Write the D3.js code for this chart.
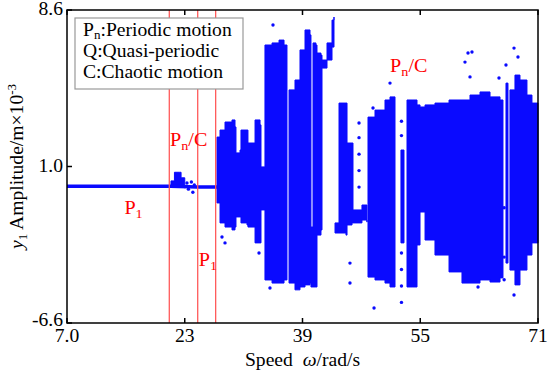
<!DOCTYPE html>
<html>
<head>
<meta charset="utf-8">
<script src="https://cdn.jsdelivr.net/npm/d3@7"></script>
<style>
  body { margin: 0; background: #fff; }
  text { font-family: "Liberation Serif", "Times New Roman", serif; }
</style>
</head>
<body>
<div id="chart"></div>
<script>
// axis ticks
var speedTicks = [7, 23, 39, 55, 71],
    speedTickLabels = ['7.0', '23', '39', '55', '71'];
var ampTicks = [-6.6, 1.0, 8.6],
    ampTickLabels = ['-6.6', '1.0', '8.6'];

// red boundaries between motion regions (rad/s)
var boundarySpeeds = [20.9, 24.76, 27.2];

// steady P1 branch
var p1Speeds = [7, 21.1, 24.7, 27.4],
    p1Amps = [0.04, 0.04, 0.0, 0.0];

// upper / lower envelope of the scattered response (null = no points)
var envSpeed = [21.13, 21.6, 22.3, 22.5, 23.0, null,
  27.38, 27.79, 28.47, 29.42, 29.83, 29.96, 30.51, 30.64, 31.46, 31.59, 32.41, 32.55, 33.23, 33.36, 33.77, 33.90, 34.86, 35.81, 36.49, 36.89, null,
  37.17, 37.98, 38.66, 39.34, 40.02, 40.15, 40.29, 40.43, 40.83, 40.97, 41.51, 41.65, 42.33, 43.01, 43.28, null,
  43.42, 43.82, 43.96, 44.91, 45.05, 45.73, 45.86, 47.08, 47.76, null,
  47.90, 48.85, 50.21, 50.89, 51.57, null,
  52.38, 52.79, null,
  53.20, 54.01, 54.56, 54.97, 55.65, 57.00, 58.91, 60.67, 61.76, 63.12, 64.48, 65.84, 66.24, null,
  66.65, 66.92, null,
  67.19, 67.87, 68.55, 69.50, 70.18, 71.0];
var envTop = [0.30, 0.72, 0.72, 0.45, 0.35, null,
  2.43, 2.77, 3.16, 3.26, 2.92, 1.66, 1.80, 2.77, 2.77, 2.14, 2.14, 3.26, 3.02, 0.98, 0.98, 6.90, 7.00, 7.14, 6.90, 6.66, null,
  4.72, 5.20, 6.66, 7.63, 7.39, -1.94, -1.94, 7.00, 6.90, 6.51, 6.41, 6.17, 7.00, 8.11, 8.26, null,
  -1.74, -1.74, 4.08, 4.08, 2.14, 2.14, -1.11, -0.87, -1.21, null,
  3.40, 3.74, 4.23, 4.38, 4.23, null,
  1.80, 1.80, null,
  4.23, 4.23, 3.99, 3.89, 3.99, 4.08, 4.23, 4.23, 4.47, 4.62, 4.38, 4.23, 4.23, null,
  5.05, 5.05, null,
  4.72, 5.44, 5.20, 4.47, 4.08, 3.99];
var envBottom = [0.0, 0.0, 0.0, 0.0, -0.05, null,
  -0.77, -1.74, -1.94, -2.08, -1.94, -1.45, -1.45, -1.74, -1.84, -1.94, -1.94, -2.71, -2.71, -1.11, -1.11, -4.51, -4.66, -4.66, -4.51, -4.03, null,
  -4.66, -4.99, -4.85, -4.75, -4.66, -4.85, -4.85, -4.85, -4.85, -2.33, -2.08, 5.78, 6.17, 6.80, 7.39, null,
  -2.23, -2.23, -2.23, -2.33, -1.84, -1.74, -1.74, -1.60, -1.70, null,
  -4.37, -4.51, -4.66, -4.85, -4.66, null,
  -2.71, -2.71, null,
  -4.85, -4.85, -2.81, -1.21, -2.57, -3.30, -4.12, -4.66, -4.66, -4.51, -4.61, -4.41, -4.27, null,
  -3.69, -3.69, null,
  -4.03, -4.75, -4.03, -3.30, -2.71, -2.57];

// isolated points outside the envelope
var dotSpeeds = [23.3, 23.5, 23.9, 24.1, 24.3, 28.06, 28.47, 33.09, 34.99, 34.58, 45.45, 45.45, 46.68, 46.68, 46.68, 46.68, 46.68, 48.72, 48.58, 50.89, 52.45, 52.45, 52.45, 52.45, 52.45, 52.45, 61.49, 62.03, 61.08, 61.76, 65.70, 66.65, 67.74, 68.28, 67.74, 62.85, 66.4, 66.4, 66.4];
var dotAmps   = [0.2, -0.1, 0.25, -0.25, 0.1, -2.42, -2.71, -3.20, 7.87, -4.90, -4.66, -3.69, 3.11, 2.4, 1.6, 0.8, 0.0, -5.87, 3.84, 5.05, 3.2, 2.5, -3.2, -4.0, -4.8, -5.6, 6.51, 6.56, 6.07, 5.35, 5.30, 5.93, 6.75, 6.32, -5.24, -4.85, -1.0, -3.4, -4.5];

var width = 550, height = 376;
var margin = {left: 67, right: 12, top: 10, bottom: 53};
var blue = '#0a0aff', red = '#ff0000', stretch = 1.09;

var svg = d3.select('#chart').append('svg')
  .attr('width', width)
  .attr('height', height);

var x = d3.scaleLinear().domain([7, 71]).range([margin.left, width - margin.right]);
var y = d3.scaleLinear().domain([-6.6, 8.6]).range([height - margin.bottom, margin.top]);

// text helper: place at (px, py) and widen like the original serif face
function label(px, py, size, anchor, extra) {
  return svg.append('text')
    .attr('transform', 'translate(' + px + ',' + py + ')' + (extra || '') + ' scale(' + stretch + ',1)')
    .attr('text-anchor', anchor || 'start')
    .style('font-size', size + 'px');
}

// scattered response
var env = envSpeed.map(function(s, i) {
  return s === null ? null : {s: s, top: envTop[i], bot: envBottom[i]};
});
svg.append('path')
  .datum(env)
  .attr('d', d3.area()
    .defined(function(d) { return d !== null; })
    .curve(d3.curveStepAfter)
    .x(function(d) { return x(d.s); })
    .y0(function(d) { return y(d.bot); })
    .y1(function(d) { return y(d.top); }))
  .style('fill', blue)
  .style('stroke', blue)
  .style('stroke-width', 1);

svg.append('g').selectAll('circle')
  .data(dotSpeeds)
  .enter().append('circle')
  .attr('cx', function(d) { return x(d); })
  .attr('cy', function(d, i) { return y(dotAmps[i]); })
  .attr('r', 1.7)
  .style('fill', blue);

svg.append('path')
  .datum(p1Speeds.map(function(s, i) { return [s, p1Amps[i]]; }))
  .attr('d', d3.line().x(function(d) { return x(d[0]); }).y(function(d) { return y(d[1]); }))
  .style('fill', 'none')
  .style('stroke', blue)
  .style('stroke-width', 3.5);

// region boundaries
svg.append('g').selectAll('line')
  .data(boundarySpeeds)
  .enter().append('line')
  .attr('x1', function(d) { return x(d); })
  .attr('x2', function(d) { return x(d); })
  .attr('y1', y(8.6))
  .attr('y2', y(-6.6))
  .style('stroke', '#ff5a5a')
  .style('stroke-width', 1.3);

// frame and ticks
var x0 = x(7), x1 = x(71), y0 = y(-6.6), y1 = y(8.6);
svg.append('rect')
  .attr('x', x0).attr('y', y1)
  .attr('width', x1 - x0).attr('height', y0 - y1)
  .style('fill', 'none').style('stroke', '#000').style('stroke-width', 1.5);

svg.append('g').selectAll('line')
  .data(speedTicks)
  .enter().append('line')
  .attr('x1', function(d) { return x(d); }).attr('x2', function(d) { return x(d); })
  .attr('y1', y0).attr('y2', y0 - 5)
  .style('stroke', '#000').style('stroke-width', 1.5);
svg.append('g').selectAll('line')
  .data(speedTicks)
  .enter().append('line')
  .attr('x1', function(d) { return x(d); }).attr('x2', function(d) { return x(d); })
  .attr('y1', y1).attr('y2', y1 + 5)
  .style('stroke', '#000').style('stroke-width', 1.5);
svg.append('g').selectAll('line')
  .data(ampTicks)
  .enter().append('line')
  .attr('x1', x0).attr('x2', x0 + 5)
  .attr('y1', function(d) { return y(d); }).attr('y2', function(d) { return y(d); })
  .style('stroke', '#000').style('stroke-width', 1.5);

speedTicks.forEach(function(d, i) {
  label(x(d), y0 + 19, 18, 'middle').text(speedTickLabels[i]);
});
ampTicks.forEach(function(d, i) {
  // the bottom label sits a bit higher so it clears "7.0"
  label(x0 - 4, y(d) + (i === 0 ? 3 : 5), 18, 'end').text(ampTickLabels[i]);
});

// axis titles
var xt = label((x0 + x1) / 2, 366, 18, 'middle');
xt.append('tspan').text('Speed\u00a0\u00a0');
xt.append('tspan').style('font-style', 'italic').text('ω');
xt.append('tspan').text('/rad/s');

var yt = label(23, (y0 + y1) / 2, 18, 'middle', ' rotate(-90)');
yt.append('tspan').style('font-style', 'italic').text('y');
yt.append('tspan').attr('dy', 4).style('font-size', '12px').text('1');
yt.append('tspan').attr('dy', -4).text(' Amplitude/m×10');
yt.append('tspan').attr('dy', -7).style('font-size', '12px').text('-3');

// legend
svg.append('rect')
  .attr('x', 75).attr('y', 18).attr('width', 168).attr('height', 71)
  .style('fill', '#fff').style('stroke', '#999').style('stroke-width', 1.2);
var lg = [['P', 'n', ':Periodic motion'], ['Q:Quasi-periodic'], ['C:Chaotic motion']];
lg.forEach(function(row, i) {
  var t = label(83, 36 + i * 21, 18);
  if (row.length === 3) {
    t.append('tspan').text(row[0]);
    t.append('tspan').attr('dy', 3).style('font-size', '12px').text(row[1]);
    t.append('tspan').attr('dy', -3).text(row[2]);
  } else {
    t.text(row[0]);
  }
});

// region labels
function regionLabel(s, a, sub, tail) {
  var t = label(x(s), y(a), 18.5).style('fill', red);
  t.append('tspan').text('P');
  t.append('tspan').attr('dy', 4).style('font-size', '13px').text(sub);
  if (tail) t.append('tspan').attr('dy', -4).text(tail);
}
regionLabel(14.8, -1.3, '1');
regionLabel(21.0, 2.0, 'n', '/C');
regionLabel(24.9, -3.85, '1');
regionLabel(50.9, 5.6, 'n', '/C');
</script>
</body>
</html>
